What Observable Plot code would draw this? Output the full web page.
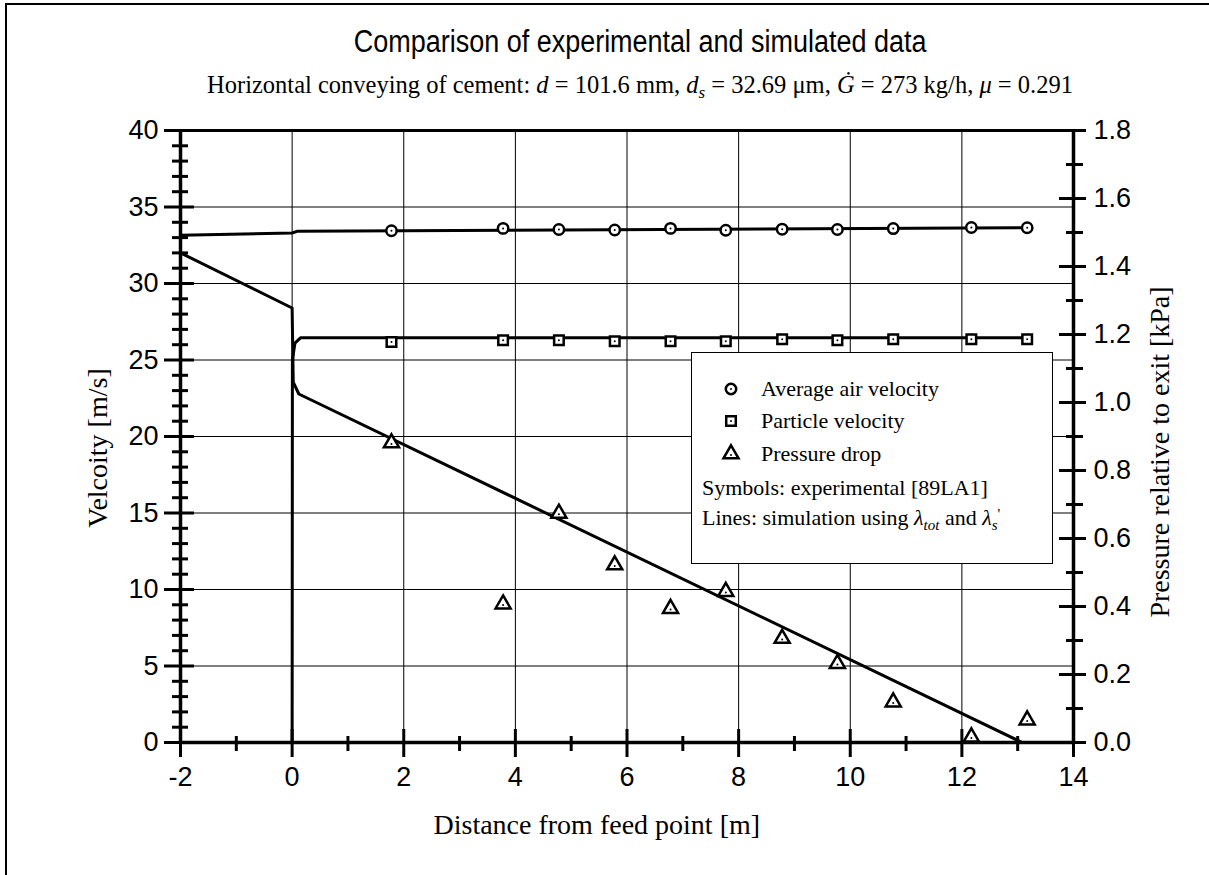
<!DOCTYPE html>
<html>
<head>
<meta charset="utf-8">
<script src="https://cdn.jsdelivr.net/npm/d3@7"></script>
<script src="https://cdn.jsdelivr.net/npm/@observablehq/plot@0.6"></script>
<style>
  body { margin: 0; background: #fff; }
  #wrap { position: relative; width: 1209px; height: 875px; overflow: hidden; background: #fff; }
  #frame { position: absolute; left: 5px; top: 3px; width: 1300px; height: 1000px; border-left: 2px solid #000; border-top: 2px solid #000; z-index: 5; pointer-events: none; }
  #title { position: absolute; left: 0; width: 1280px; top: 26px; text-align: center; color: #000; }
  #title span { display: inline-block; font: 31px/31px "Liberation Sans", Arial, sans-serif; transform: scaleX(0.87); white-space: nowrap; }
  #subtitle { position: absolute; left: 0; width: 1280px; top: 73px; text-align: center; font: 24.5px/24px "Liberation Serif", "Times New Roman", serif; color: #000; white-space: nowrap; }
  #subtitle sub { font-size: 17px; vertical-align: -5px; line-height: 0; }
  #chart { position: absolute; left: 0; top: 110px; }
  .axlab { position: absolute; font: 28px/28px "Liberation Serif", "Times New Roman", serif; color: #000; white-space: nowrap; transform-origin: center center; }
  #legend { position: absolute; left: 691px; top: 352px; width: 360px; height: 210px; background: #fff; border: 1.5px solid #000; font: 22px/22px "Liberation Serif", "Times New Roman", serif; color: #000; }
  .lrow { position: absolute; white-space: nowrap; }
  .lrow sub { font-size: 15px; vertical-align: -5px; line-height: 0; }
  .lrow sup { font-size: 15px; vertical-align: 6px; line-height: 0; }
  .licon { position: absolute; }
</style>
</head>
<body>
<div id="wrap">
  <div id="title"><span>Comparison of experimental and simulated data</span></div>
  <div id="subtitle">Horizontal conveying of cement: <i>d</i> = 101.6 mm, <i>d</i><sub><i>s</i></sub> = 32.69 μm, <i>Ġ</i> = 273 kg/h, <i>μ</i> = 0.291</div>
  <div id="chart"></div>
  <div class="axlab" id="ylab">Velcoity [m/s]</div>
  <div class="axlab" id="y2lab">Pressure relative to exit [kPa]</div>
  <div class="axlab" id="xlab">Distance from feed point [m]</div>
  <div id="legend"></div>
  <div id="frame"></div>
</div>
<script>
// ---------- data ----------
const xExp        = [1.78, 3.78, 4.78, 5.78, 6.78, 7.77, 8.78, 9.77, 10.77, 12.17, 13.17];           // m
const airVelExp   = [33.45, 33.60, 33.53, 33.50, 33.60, 33.48, 33.55, 33.53, 33.59, 33.66, 33.64];   // m/s
const partVelExp  = [26.18, 26.29, 26.29, 26.23, 26.23, 26.23, 26.36, 26.29, 26.36, 26.36, 26.36];   // m/s
const pressureExp = [0.881, 0.407, 0.674, 0.522, 0.394, 0.444, 0.306, 0.232, 0.119, 0.016, 0.066];   // kPa

const airLineX  = [-2, 0, 0.1, 13.17];
const airLineV  = [33.15, 33.3, 33.42, 33.64];
const partLineX = [0, 0.005, 0.05, 0.15, 13.17];
const partLineV = [0, 25.0, 26.1, 26.45, 26.45];
const presLineX = [-2, 0, 0.02, 0.12, 13.08];
const presLineP = [1.44, 1.278, 1.06, 1.025, 0];

const xTicks      = [-2, 0, 2, 4, 6, 8, 10, 12, 14];
const xMinorTicks = [-1, 1, 3, 5, 7, 9, 11, 13];
const xGrid       = [0, 2, 4, 6, 8, 10, 12];
const yTicks      = [0, 5, 10, 15, 20, 25, 30, 35, 40];
const yMinorTicks = d3.range(1, 40).filter(v => v % 5 !== 0);
const yGrid       = [5, 10, 15, 20, 25, 30, 35];
const y2Ticks      = [0.0, 0.2, 0.4, 0.6, 0.8, 1.0, 1.2, 1.4, 1.6, 1.8];
const y2MinorTicks = [0.1, 0.3, 0.5, 0.7, 0.9, 1.1, 1.3, 1.5, 1.7];
const KPA_PER_VEL = 1.8 / 40;   // right axis 0..1.8 kPa spans left axis 0..40 m/s

// ---------- tables ----------
const exp = xExp.map((x, i) => ({x, air: airVelExp[i], part: partVelExp[i], p: pressureExp[i]}));
const airLine  = airLineX.map((x, i) => ({x, v: airLineV[i]}));
const partLine = partLineX.map((x, i) => ({x, v: partLineV[i]}));
const presLine = presLineX.map((x, i) => ({x, p: presLineP[i]}));
const toVel = p => p / KPA_PER_VEL;

const font = "'Liberation Sans', Arial, sans-serif";
const symOpts = {fill: "white", stroke: "black", strokeWidth: 2.5};

const plot = Plot.plot({
  width: 1209,
  height: 765,
  marginTop: 20,
  marginLeft: 180,
  marginRight: 136,
  marginBottom: 133,
  x: {domain: [-2, 14], axis: null},
  y: {domain: [0, 40], axis: null},
  style: {fontFamily: font, fontSize: "27px", color: "black", background: "white", overflow: "visible"},
  marks: [
    Plot.gridY(yGrid, {stroke: "black", strokeOpacity: 1, strokeWidth: 1}),
    Plot.gridX(xGrid, {stroke: "black", strokeOpacity: 1, strokeWidth: 1}),
    // frame
    Plot.ruleY([40], {stroke: "black", strokeWidth: 3}),
    Plot.ruleX([14], {stroke: "black", strokeWidth: 3.5}),
    Plot.ruleX([-2], {stroke: "black", strokeWidth: 3.5}),
    Plot.ruleY([0], {stroke: "black", strokeWidth: 3.5}),
    // left axis ticks (crossing)
    Plot.axisY(yTicks, {anchor: "left", tickSize: 30, dx: 14, fill: "none", strokeWidth: 3, label: null}),
    Plot.axisY(yMinorTicks, {anchor: "left", tickSize: 16, dx: 8, fill: "none", strokeWidth: 3, label: null}),
    Plot.axisY(yTicks, {anchor: "left", tickSize: 0, tickPadding: 22, fontSize: 27, fontFamily: font, label: null, tickFormat: d => String(d)}),
    // right axis (kPa)
    Plot.axisY(y2Ticks.map(toVel), {anchor: "right", tickSize: 27, dx: -15, fill: "none", strokeWidth: 3, label: null}),
    Plot.axisY(y2MinorTicks.map(toVel), {anchor: "right", tickSize: 17, dx: -8, fill: "none", strokeWidth: 3, label: null}),
    Plot.axisY(y2Ticks.map(toVel), {anchor: "right", tickSize: 0, tickPadding: 20, fontSize: 27, fontFamily: font, label: null,
      tickFormat: d => (d * KPA_PER_VEL).toFixed(1)}),
    // bottom axis
    Plot.axisX(xTicks, {anchor: "bottom", tickSize: 28, dy: -13, fill: "none", strokeWidth: 3, label: null}),
    Plot.axisX(xMinorTicks, {anchor: "bottom", tickSize: 15, dy: -6, fill: "none", strokeWidth: 3, label: null}),
    Plot.axisX(xTicks, {anchor: "bottom", tickSize: 0, tickPadding: 24, fontSize: 27, fontFamily: font, label: null, tickFormat: d => String(d)}),
    // simulation lines
    Plot.line(airLine,  {x: "x", y: "v", stroke: "black", strokeWidth: 3, strokeLinejoin: "round"}),
    Plot.line(partLine, {x: "x", y: "v", stroke: "black", strokeWidth: 3, strokeLinejoin: "round"}),
    Plot.line(presLine, {x: "x", y: d => toVel(d.p), stroke: "black", strokeWidth: 3, strokeLinejoin: "round"}),
    // experimental symbols
    Plot.dot(exp, {x: "x", y: "air",  symbol: "circle",   r: 5.2, ...symOpts}),
    Plot.dot(exp, {x: "x", y: "part", symbol: "square",   r: 5.4, ...symOpts}),
    Plot.dot(exp, {x: "x", y: d => toVel(d.p), symbol: "triangle", r: 5.6, ...symOpts}),
    Plot.dot(exp, {x: "x", y: "air",  r: 1, fill: "black"}),
    Plot.dot(exp, {x: "x", y: "part", r: 1, fill: "black"}),
    Plot.dot(exp, {x: "x", y: d => toVel(d.p), r: 1, fill: "black", dy: 1})
  ]
});
document.getElementById("chart").appendChild(plot);

// ---------- axis titles ----------
function placeLabel(id, cx, cy, rot) {
  const el = document.getElementById(id);
  const w = el.offsetWidth, h = el.offsetHeight;
  el.style.left = (cx - w / 2) + "px";
  el.style.top = (cy - h / 2) + "px";
  if (rot) el.style.transform = `rotate(${rot}deg)`;
}
placeLabel("ylab", 97, 448, -90);
placeLabel("y2lab", 1159, 452, -90);
placeLabel("xlab", 597, 825, 0);

// ---------- legend ----------
const legendItems = [
  {symbol: d3.symbolCircle, r: 5.2, text: "Average air velocity"},
  {symbol: d3.symbolSquare, r: 5.4, text: "Particle velocity"},
  {symbol: d3.symbolTriangle, r: 5.6, text: "Pressure drop"}
];
const legend = d3.select("#legend");
const rowY = [36, 68, 101];
legendItems.forEach((it, i) => {
  const svg = legend.append("svg").attr("class", "licon").attr("width", 24).attr("height", 24)
    .style("left", (730 - 691 - 12) + "px").style("top", (rowY[i] - 12) + "px");
  svg.append("path").attr("transform", "translate(12,12)")
    .attr("d", d3.symbol(it.symbol, Math.PI * it.r * it.r)())
    .attr("fill", "white").attr("stroke", "black").attr("stroke-width", 2.5);
  svg.append("circle").attr("cx", 12).attr("cy", i === 2 ? 13 : 12).attr("r", 1).attr("fill", "black");
  legend.append("div").attr("class", "lrow").style("left", (760 - 691) + "px").style("top", (rowY[i] - 11) + "px").text(it.text);
});
legend.append("div").attr("class", "lrow").style("left", "10px").style("top", (135 - 11) + "px")
  .text("Symbols: experimental [89LA1]");
legend.append("div").attr("class", "lrow").style("left", "10px").style("top", (165 - 11) + "px")
  .html("Lines: simulation using <i>λ</i><sub><i>tot</i></sub> and <i>λ</i><sub><i>s</i></sub><sup>'</sup>");
</script>
</body>
</html>
